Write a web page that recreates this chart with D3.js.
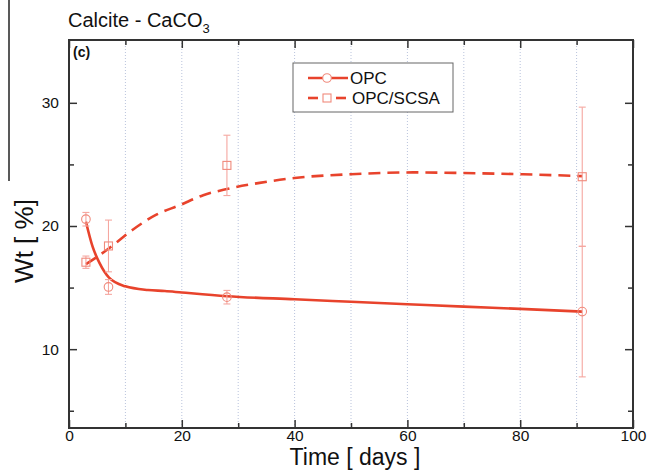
<!DOCTYPE html>
<html>
<head>
<meta charset="utf-8">
<script src="https://cdn.jsdelivr.net/npm/d3@7"></script>
<style>
  body { margin: 0; background: #fff; }
  text { font-family: Arial, "Liberation Sans", sans-serif; }
</style>
</head>
<body>
<svg width="649" height="470"></svg>
<script>
// measured points
const days = [3, 7, 28, 91];
const opcWt = [20.55, 15.05, 14.22, 13.05];
const opcErr = [0.55, 0.6, 0.55, 5.3];
const scsaWt = [17.06, 18.38, 24.92, 24.0];
const scsaErr = [0.5, 2.1, 2.45, 5.65];

// fitted curves
const opcFitDays = [3, 4.2, 5.4, 7.1, 10, 14, 17, 20, 28, 40, 50, 60, 70, 80, 91];
const opcFitWt = [20.35, 18.3, 17.0, 15.8, 15.1, 14.8, 14.72, 14.6, 14.3, 14.05, 13.85, 13.65, 13.45, 13.27, 13.05];
const scsaFitDays = [3, 5, 7.4, 11.3, 15.4, 19.7, 23.8, 28, 33.8, 40, 50, 61, 70, 80.5, 91];
const scsaFitWt = [16.9, 17.5, 18.3, 19.7, 20.9, 21.7, 22.5, 23.0, 23.5, 23.9, 24.2, 24.35, 24.3, 24.2, 24.05];

const xTicks = [0, 20, 40, 60, 80, 100];
const xMinor = [10, 30, 50, 70, 90];
const yTicks = [10, 20, 30];
const yMinor = [5, 15, 25];

const margin = { top: 40, right: 16, bottom: 42, left: 69 };
const W = 649, H = 470;
const width = W - margin.left - margin.right;
const height = H - margin.top - margin.bottom;

const lineColor = "#e8432c";
const markColor = "#f08a7c";
const errColor = "#f5a7a0";

const svg = d3.select("svg");
svg.append("rect").attr("width", W).attr("height", H).attr("fill", "#fff");

// stray crop edge on the left of the original figure
svg.append("line")
    .attr("x1", 9).attr("x2", 9).attr("y1", 0).attr("y2", 181)
    .attr("stroke", "#222").attr("stroke-width", 1.5);

const g = svg.append("g").attr("transform", `translate(${margin.left},${margin.top})`);

const x = d3.scaleLinear().domain([0, 100]).range([0, width]);
const y = d3.scaleLinear().domain([3.6, 35.1]).range([height, 0]);

// dotted vertical grid
g.append("g").selectAll("line")
    .data(d3.range(10, 100, 10))
    .join("line")
    .attr("x1", d => x(d)).attr("x2", d => x(d))
    .attr("y1", 0).attr("y2", height)
    .attr("stroke", "#b9c3dc")
    .attr("stroke-width", 1)
    .attr("stroke-dasharray", "1,2");

// axes with inward ticks
const axisStyle = sel => {
    sel.select(".domain").remove();
    sel.selectAll("line").attr("stroke", "#333").attr("stroke-width", 1.5);
    sel.selectAll("text")
        .attr("fill", "#111")
        .style("font-size", "15.5px");
};

g.append("g")
    .attr("transform", `translate(0,${height})`)
    .call(d3.axisBottom(x).tickValues(xTicks).tickSizeInner(-8).tickSizeOuter(0).tickPadding(2))
    .call(axisStyle);
g.append("g")
    .attr("transform", `translate(0,${height})`)
    .call(d3.axisBottom(x).tickValues(xMinor).tickSizeInner(-5).tickSizeOuter(0).tickFormat(""))
    .call(axisStyle);
g.append("g")
    .call(d3.axisTop(x).tickValues(xTicks).tickSizeInner(-8).tickSizeOuter(0).tickFormat(""))
    .call(axisStyle);
g.append("g")
    .call(d3.axisTop(x).tickValues(xMinor).tickSizeInner(-5).tickSizeOuter(0).tickFormat(""))
    .call(axisStyle);

g.append("g")
    .call(d3.axisLeft(y).tickValues(yTicks).tickSizeInner(-8).tickSizeOuter(0).tickPadding(10))
    .call(axisStyle);
g.append("g")
    .call(d3.axisLeft(y).tickValues(yMinor).tickSizeInner(-5).tickSizeOuter(0).tickFormat(""))
    .call(axisStyle);
g.append("g")
    .attr("transform", `translate(${width},0)`)
    .call(d3.axisRight(y).tickValues(yTicks).tickSizeInner(-8).tickSizeOuter(0).tickFormat(""))
    .call(axisStyle);
g.append("g")
    .attr("transform", `translate(${width},0)`)
    .call(d3.axisRight(y).tickValues(yMinor).tickSizeInner(-5).tickSizeOuter(0).tickFormat(""))
    .call(axisStyle);

// frame
g.append("rect")
    .attr("width", width).attr("height", height)
    .attr("fill", "none")
    .attr("stroke", "#333")
    .attr("stroke-width", 2);

// fitted curves
const fitLine = d3.line()
    .x(d => x(d[0]))
    .y(d => y(d[1]))
    .curve(d3.curveMonotoneX);

g.append("path")
    .datum(d3.zip(opcFitDays, opcFitWt))
    .attr("fill", "none")
    .attr("stroke", lineColor)
    .attr("stroke-width", 2.6)
    .attr("d", fitLine);

g.append("path")
    .datum(d3.zip(scsaFitDays, scsaFitWt))
    .attr("fill", "none")
    .attr("stroke", lineColor)
    .attr("stroke-width", 2.6)
    .attr("stroke-dasharray", "12,7")
    .attr("d", fitLine);

// error bars
const capW = 3.5;
function errorBars(vals, errs) {
    const eg = g.append("g")
        .attr("stroke", errColor)
        .attr("stroke-width", 1.1);
    days.forEach((d, i) => {
        const cx = x(d);
        const lo = y(vals[i] - errs[i]);
        const hi = y(vals[i] + errs[i]);
        eg.append("line").attr("x1", cx).attr("x2", cx).attr("y1", lo).attr("y2", hi);
        eg.append("line").attr("x1", cx - capW).attr("x2", cx + capW).attr("y1", lo).attr("y2", lo);
        eg.append("line").attr("x1", cx - capW).attr("x2", cx + capW).attr("y1", hi).attr("y2", hi);
    });
}
errorBars(opcWt, opcErr);
errorBars(scsaWt, scsaErr);

// markers
g.append("g").selectAll("circle")
    .data(d3.zip(days, opcWt))
    .join("circle")
    .attr("cx", d => x(d[0]))
    .attr("cy", d => y(d[1]))
    .attr("r", 4.3)
    .attr("fill", "none")
    .attr("stroke", markColor)
    .attr("stroke-width", 1.1);

g.append("g").selectAll("rect")
    .data(d3.zip(days, scsaWt))
    .join("rect")
    .attr("x", d => x(d[0]) - 4)
    .attr("y", d => y(d[1]) - 4)
    .attr("width", 8)
    .attr("height", 8)
    .attr("fill", "none")
    .attr("stroke", markColor)
    .attr("stroke-width", 1.1);

// panel tag
g.append("text")
    .attr("x", 4).attr("y", 17)
    .style("font-size", "14px")
    .style("font-weight", "bold")
    .attr("fill", "#111")
    .text("(c)");

// legend
const legend = svg.append("g").attr("transform", "translate(293,63)");
legend.append("rect")
    .attr("width", 160).attr("height", 49)
    .attr("fill", "#fff")
    .attr("stroke", "#666")
    .attr("stroke-width", 1);

legend.append("line")
    .attr("x1", 15).attr("x2", 55).attr("y1", 15).attr("y2", 15)
    .attr("stroke", lineColor).attr("stroke-width", 2.6);
legend.append("circle")
    .attr("cx", 34).attr("cy", 15).attr("r", 4.3)
    .attr("fill", "#fff").attr("stroke", markColor).attr("stroke-width", 1.1);
legend.append("text")
    .attr("x", 57).attr("y", 21)
    .style("font-size", "17px").attr("fill", "#111")
    .text("OPC");

legend.selectAll(".dash")
    .data([[15, 25], [43, 53]])
    .join("line")
    .attr("x1", d => d[0]).attr("x2", d => d[1]).attr("y1", 35).attr("y2", 35)
    .attr("stroke", lineColor).attr("stroke-width", 2.6);
legend.append("rect")
    .attr("x", 30).attr("y", 31).attr("width", 8).attr("height", 8)
    .attr("fill", "#fff").attr("stroke", markColor).attr("stroke-width", 1.1);
legend.append("text")
    .attr("x", 59).attr("y", 41)
    .style("font-size", "17px").attr("fill", "#111")
    .text("OPC/SCSA");

// title with subscript
const title = svg.append("text")
    .attr("x", 68).attr("y", 27)
    .style("font-size", "20px")
    .attr("fill", "#111");
title.append("tspan").text("Calcite - CaCO");
title.append("tspan").attr("dy", 6).style("font-size", "13px").text("3");

// axis titles
svg.append("text")
    .attr("x", margin.left + width / 2 + 4).attr("y", 465)
    .attr("text-anchor", "middle")
    .style("font-size", "23px")
    .attr("fill", "#111")
    .text("Time [ days ]");

svg.append("text")
    .attr("transform", `translate(33,241) rotate(-90)`)
    .attr("text-anchor", "middle")
    .style("font-size", "26px")
    .attr("fill", "#111")
    .text("Wt [ %]");
</script>
</body>
</html>
